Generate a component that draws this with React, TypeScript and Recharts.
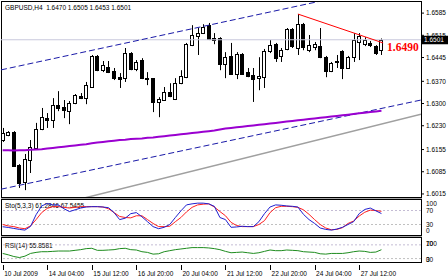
import React from "react";
import { ComposedChart, LineChart, Bar, Line, XAxis, YAxis, ReferenceLine, ReferenceDot } from "recharts";

const FONT = "'Liberation Sans', Arial, sans-serif";

const title = "GBPUSD,H4  1.6470 1.6505 1.6453 1.6501";
const stoTitle = "Sto(5,3,3) 61.2846 67.5455";
const rsiTitle = "RSI(14) 55.8581";

// H4 bars, 10 Jul 20:00 .. 28 Jul 04:00
const opens = [
  1.6185, 1.6201, 1.6210, 1.6106, 1.6053, 1.6122, 1.6160, 1.6220, 1.6254, 1.6248,
  1.6295, 1.6289, 1.6276, 1.6302, 1.6324, 1.6317, 1.6352, 1.6450, 1.6405, 1.6415,
  1.6402, 1.6383, 1.6380, 1.6459, 1.6409, 1.6437, 1.6380, 1.6380, 1.6305, 1.6311,
  1.6336, 1.6314, 1.6364, 1.6383, 1.6484, 1.6513, 1.6522, 1.6547, 1.6506, 1.6506,
  1.6424, 1.6450, 1.6393, 1.6456, 1.6399, 1.6390, 1.6380, 1.6383, 1.6465, 1.6487,
  1.6450, 1.6472, 1.6535, 1.6475, 1.6550, 1.6468, 1.6478, 1.6481, 1.6446, 1.6402,
  1.6431, 1.6465, 1.6412, 1.6446, 1.6494, 1.6487, 1.6491, 1.6481, 1.6470,
];
const highs = [
  1.6223, 1.6213, 1.6213, 1.6109, 1.6141, 1.6185, 1.6239, 1.6286, 1.6270, 1.6317,
  1.6339, 1.6311, 1.6308, 1.6330, 1.6333, 1.6368, 1.6453, 1.6453, 1.6434, 1.6434,
  1.6412, 1.6396, 1.6475, 1.6462, 1.6437, 1.6443, 1.6399, 1.6380, 1.6320, 1.6352,
  1.6364, 1.6380, 1.6405, 1.6491, 1.6547, 1.6538, 1.6550, 1.6554, 1.6522, 1.6509,
  1.6462, 1.6491, 1.6462, 1.6459, 1.6412, 1.6412, 1.6446, 1.6472, 1.6500, 1.6491,
  1.6475, 1.6538, 1.6538, 1.6582, 1.6554, 1.6516, 1.6494, 1.6538, 1.6450, 1.6431,
  1.6453, 1.6468, 1.6450, 1.6522, 1.6522, 1.6509, 1.6497, 1.6484, 1.6505,
];
const lows = [
  1.6179, 1.6197, 1.6100, 1.6034, 1.6027, 1.6081, 1.6157, 1.6216, 1.6223, 1.6223,
  1.6276, 1.6254, 1.6235, 1.6298, 1.6314, 1.6298, 1.6349, 1.6402, 1.6399, 1.6396,
  1.6374, 1.6349, 1.6368, 1.6405, 1.6402, 1.6377, 1.6358, 1.6273, 1.6257, 1.6308,
  1.6320, 1.6311, 1.6361, 1.6380, 1.6481, 1.6453, 1.6519, 1.6500, 1.6487, 1.6405,
  1.6380, 1.6390, 1.6377, 1.6390, 1.6383, 1.6305, 1.6342, 1.6349, 1.6459, 1.6431,
  1.6431, 1.6468, 1.6475, 1.6453, 1.6468, 1.6462, 1.6468, 1.6443, 1.6383, 1.6399,
  1.6412, 1.6377, 1.6409, 1.6431, 1.6437, 1.6481, 1.6478, 1.6453, 1.6453,
];
const closes = [
  1.6207, 1.6210, 1.6103, 1.6050, 1.6125, 1.6163, 1.6220, 1.6257, 1.6248, 1.6295,
  1.6286, 1.6279, 1.6302, 1.6327, 1.6317, 1.6358, 1.6450, 1.6405, 1.6421, 1.6399,
  1.6380, 1.6377, 1.6459, 1.6409, 1.6431, 1.6380, 1.6377, 1.6305, 1.6314, 1.6336,
  1.6324, 1.6364, 1.6387, 1.6487, 1.6516, 1.6522, 1.6541, 1.6503, 1.6500, 1.6424,
  1.6446, 1.6393, 1.6456, 1.6393, 1.6387, 1.6377, 1.6387, 1.6465, 1.6484, 1.6443,
  1.6468, 1.6535, 1.6481, 1.6550, 1.6478, 1.6484, 1.6487, 1.6446, 1.6402, 1.6428,
  1.6434, 1.6412, 1.6446, 1.6500, 1.6513, 1.6500, 1.6484, 1.6459, 1.6501,
];
const movingAvg = [
  1.6153, 1.6153, 1.6152, 1.6153, 1.6153, 1.6154, 1.6155, 1.6156, 1.6158, 1.6160,
  1.6162, 1.6164, 1.6166, 1.6168, 1.6170, 1.6172, 1.6175, 1.6177, 1.6179, 1.6181,
  1.6183, 1.6185, 1.6186, 1.6188, 1.6189, 1.6190, 1.6192, 1.6193, 1.6195, 1.6197,
  1.6199, 1.6201, 1.6203, 1.6205, 1.6207, 1.6209, 1.6211, 1.6213, 1.6215, 1.6218,
  1.6221, 1.6223, 1.6225, 1.6227, 1.6229, 1.6231, 1.6233, 1.6235, 1.6237, 1.6239,
  1.6241, 1.6243, 1.6245, 1.6247, 1.6249, 1.6251, 1.6253, 1.6255, 1.6257, 1.6259,
  1.6261, 1.6263, 1.6265, 1.6267, 1.6269, 1.6271, 1.6273, 1.6275, 1.6277,
];
const stoMain = [
  23.6, 21.6, 18.8, 16, 14, 24.4, 58, 83, 90, 86,
  86, 75, 67, 72, 77, 80, 81, 81, 80, 78,
  64, 44, 48, 61, 64, 52, 38, 24, 18, 22,
  30, 50, 69, 86, 89, 91, 91, 89, 82, 50,
  44, 22, 23, 25, 24, 24, 38, 61, 80, 86,
  85, 83, 82, 80, 59, 44, 33, 20, 16, 14,
  17, 22, 30, 38, 61, 73, 77, 69, 61.2846,
];
const stoSignal = [
  30, 26, 24, 20, 18, 26, 44, 64, 76, 81,
  81, 79, 77, 79, 81, 81, 81, 81, 80, 75,
  64, 53, 50, 49, 55, 55, 44, 33, 24, 24,
  25, 38, 50, 66, 79, 86, 88, 89, 80, 67,
  55, 36, 27, 24, 24, 24, 30, 41, 64, 78,
  82, 82, 81, 79, 72, 59, 44, 30, 20, 15,
  16, 21, 33, 40, 54, 65, 71, 70, 67.5455,
];
const rsiValues = [
  45, 41, 36, 33, 37, 45, 48, 50, 50, 51,
  52, 52, 52, 54, 56, 59, 60, 54, 54, 55,
  56, 59, 60, 56, 55, 50, 48, 43, 44, 50,
  53, 56, 58, 60, 62, 62, 62, 61, 59, 56,
  51, 47, 48, 49, 47, 45, 47, 51, 55, 53,
  53, 55, 54, 53, 50, 49, 48, 44, 43, 45,
  45, 45, 47, 50, 52, 51, 48, 49, 55.86,
];

const priceTicks = [1.6585, 1.6515, 1.6445, 1.637, 1.63, 1.623, 1.6155, 1.6085, 1.6015];
const stoTicks = [100, 70, 30, 0];
const rsiTicks = [70, 30];
const timeTickBars = [0, 8, 16, 24, 32, 40, 48, 56, 64];
const timeLabels = [
  "10 Jul 2009", "14 Jul 04:00", "15 Jul 12:00", "16 Jul 20:00", "20 Jul 04:00",
  "21 Jul 12:00", "22 Jul 20:00", "24 Jul 04:00", "27 Jul 12:00",
];

const lastPrice = 1.6501;
const upperChannel = [{ i: -0.3, p: 1.6406 }, { i: 75.1, p: 1.6691 }];
const lowerChannel = [{ i: -0.3, p: 1.603 }, { i: 75.1, p: 1.6311 }];
const supportLine = [{ i: 10, p: 1.5982 }, { i: 75.1, p: 1.6266 }];
const resistLine = [{ i: 53, p: 1.6582 }, { i: 68.3, p: 1.6491 }];
const resistLabel = { i: 68.64, p: 1.6478, text: "1.6490" };

const X_DOMAIN: [number, number] = [-0.3, 75.1];
const PRICE_DOMAIN: [number, number] = [1.60054, 1.662];

const candles = opens.map((o, i) => ({
  i,
  o,
  h: highs[i],
  l: lows[i],
  c: closes[i],
  range: [lows[i], highs[i]],
  ma: movingAvg[i],
}));
const stoData = stoMain.map((k, i) => ({ i, k, d: stoSignal[i] }));
const rsiData = rsiValues.map((v, i) => ({ i, v }));

function Candle(props: any) {
  const { x, y, width, height, payload } = props;
  const { o, h, l, c } = payload;
  const cx = Math.round(x + width / 2) + 0.5;
  const k = h > l ? height / (h - l) : 0;
  const yO = y + (h - o) * k;
  const yC = y + (h - c) * k;
  const top = Math.round(Math.min(yO, yC)) + 0.5;
  const bot = Math.round(Math.max(yO, yC)) + 0.5;
  const up = c >= o;
  return (
    <g>
      <line x1={cx} x2={cx} y1={y} y2={y + height} stroke="#000" strokeWidth={1} />
      <rect
        x={cx - 2}
        y={top}
        width={3}
        height={Math.max(bot - top, 1)}
        fill={up ? "#fff" : "#000"}
        stroke="#000"
        strokeWidth={1}
      />
    </g>
  );
}

function PriceBox(props: any) {
  const { x, y, width } = props.viewBox;
  const left = x + width + 1;
  return (
    <g>
      <rect x={left} y={y - 4} width={26} height={8.5} fill="#000" />
      <text x={left + 2} y={y + 2.4} fontSize={6.5} fontFamily={FONT} fill="#fff">
        {lastPrice.toFixed(4)}
      </text>
    </g>
  );
}

function StoTick(props: any) {
  const { x, y, payload } = props;
  const v = payload.value;
  const dy = v === 100 ? 3.5 : v === 0 ? -4.5 : 0;
  return (
    <text x={x} y={y + dy + 2.3} fontSize={6.5} fontFamily={FONT} fill="#000">
      {v}
    </text>
  );
}

function RsiTick(props: any) {
  const { x, y, payload } = props;
  const pair = payload.value === 70 ? ["70", "100"] : ["0", "30"];
  const dy = payload.value === 70 ? -1 : 1.5;
  return (
    <g>
      {pair.map((t) => (
        <text key={t} x={x} y={y + dy + 2.3} fontSize={6.5} fontFamily={FONT} fill="#000">
          {t}
        </text>
      ))}
    </g>
  );
}

function TimeTick(props: any) {
  const { x, y, payload } = props;
  const idx = timeTickBars.indexOf(payload.value);
  const tx = Math.round(x) + 0.5;
  return (
    <g>
      <line x1={tx} x2={tx} y1={y + 3} y2={y + 8} stroke="#000" />
      <text x={x + 1.5} y={y + 14} fontSize={6.5} fontFamily={FONT} fill="#000">
        {timeLabels[idx]}
      </text>
    </g>
  );
}

function Frame() {
  return (
    <svg width={448} height={280} style={{ position: "absolute", left: 0, top: 0 }}>
      <rect x={0} y={0} width={448} height={280} fill="#fff" />
      <rect x={1.5} y={1.5} width={420} height={196} fill="none" stroke="#000" />
      <rect x={1} y={198} width={421} height={1} fill="#a8a8a8" />
      <rect x={1.5} y={199.5} width={420} height={36} fill="none" stroke="#000" />
      <rect x={1} y={236} width={421} height={1} fill="#a8a8a8" />
      <rect x={1.5} y={237.5} width={420} height={25} fill="none" stroke="#000" />
      <text x={5} y={9.6} fontSize={6.5} fontFamily={FONT} fill="#000" style={{ whiteSpace: "pre" }}>
        {title}
      </text>
      <text x={5} y={207.5} fontSize={6.5} fontFamily={FONT} fill="#000">
        {stoTitle}
      </text>
      <text x={5} y={247.5} fontSize={6.5} fontFamily={FONT} fill="#000">
        {rsiTitle}
      </text>
    </svg>
  );
}

export default function App() {
  return (
    <div style={{ position: "absolute", left: 0, top: 0, width: 448, height: 280, background: "#fff" }}>
      <Frame />
      <div style={{ position: "absolute", left: 0, top: 0 }}>
        <ComposedChart width={448} height={200} data={candles} margin={{ top: 2, right: 0, bottom: 3, left: 1 }}>
          <XAxis type="number" dataKey="i" domain={X_DOMAIN} allowDataOverflow hide />
          <YAxis
            orientation="right"
            width={27}
            domain={PRICE_DOMAIN}
            allowDataOverflow
            ticks={priceTicks}
            interval={0}
            tickFormatter={(v: number) => v.toFixed(4)}
            tick={{ fontSize: 6.5, fill: "#000", fontFamily: FONT }}
            tickSize={3}
            tickMargin={2}
            axisLine={false}
            stroke="#000"
          />
          <ReferenceLine y={lastPrice} stroke="#c8c8dc" strokeWidth={1} label={<PriceBox />} />
          <Line data={supportLine} dataKey="p" type="linear" stroke="#a0a0a0" strokeWidth={1.5} dot={false} isAnimationActive={false} />
          <Line data={lowerChannel} dataKey="p" type="linear" stroke="#1a1aa8" strokeDasharray="6 3" strokeWidth={1} dot={false} isAnimationActive={false} />
          <Line data={upperChannel} dataKey="p" type="linear" stroke="#1a1aa8" strokeDasharray="6 3" strokeWidth={1} dot={false} isAnimationActive={false} />
          <Line dataKey="ma" type="linear" stroke="#9a00d0" strokeWidth={2} dot={false} isAnimationActive={false} />
          <Bar dataKey="range" barSize={5} shape={<Candle />} isAnimationActive={false} />
          <Line data={resistLine} dataKey="p" type="linear" stroke="#ff0000" strokeWidth={1} dot={false} isAnimationActive={false} />
          <ReferenceDot
            x={resistLabel.i}
            y={resistLabel.p}
            r={0}
            fill="none"
            stroke="none"
            label={{
              value: resistLabel.text,
              position: "right",
              offset: 2,
              fill: "#ff0000",
              fontSize: 11.5,
              fontWeight: "bold",
              fontFamily: "'Liberation Serif', 'Times New Roman', serif",
            }}
          />
        </ComposedChart>
      </div>
      <div style={{ position: "absolute", left: 0, top: 200 }}>
        <LineChart width={448} height={35} data={stoData} margin={{ top: 0, right: 0, bottom: 0, left: 1 }}>
          <XAxis type="number" dataKey="i" domain={X_DOMAIN} allowDataOverflow hide />
          <YAxis
            orientation="right"
            width={27}
            domain={[0, 100]}
            ticks={stoTicks}
            interval={0}
            tick={<StoTick />}
            tickLine={false}
            tickSize={5}
            tickMargin={0}
            axisLine={false}
          />
          <ReferenceLine y={70} stroke="#c4bcd4" strokeDasharray="2 2" />
          <ReferenceLine y={30} stroke="#c0c0c0" strokeDasharray="2 2" />
          <Line dataKey="d" type="linear" stroke="#ff2020" strokeWidth={1} dot={false} isAnimationActive={false} />
          <Line dataKey="k" type="linear" stroke="#2020d0" strokeWidth={1} dot={false} isAnimationActive={false} />
        </LineChart>
      </div>
      <div style={{ position: "absolute", left: 0, top: 238 }}>
        <LineChart width={448} height={42} data={rsiData} margin={{ top: 0, right: 0, bottom: 0, left: 1 }}>
          <XAxis
            type="number"
            dataKey="i"
            domain={X_DOMAIN}
            allowDataOverflow
            ticks={timeTickBars}
            interval={0}
            height={18}
            tick={<TimeTick />}
            tickLine={false}
            tickSize={0}
            tickMargin={0}
            axisLine={false}
          />
          <YAxis
            orientation="right"
            width={27}
            domain={[20, 90]}
            allowDataOverflow
            ticks={rsiTicks}
            interval={0}
            tick={<RsiTick />}
            tickLine={false}
            tickSize={5}
            tickMargin={0}
            axisLine={false}
          />
          <ReferenceLine y={70} stroke="#c4bcd4" strokeDasharray="2 2" />
          <ReferenceLine y={30} stroke="#c0c0c0" strokeDasharray="2 2" />
          <Line dataKey="v" type="linear" stroke="#1e8c1e" strokeWidth={1} dot={false} isAnimationActive={false} />
        </LineChart>
      </div>
    </div>
  );
}
